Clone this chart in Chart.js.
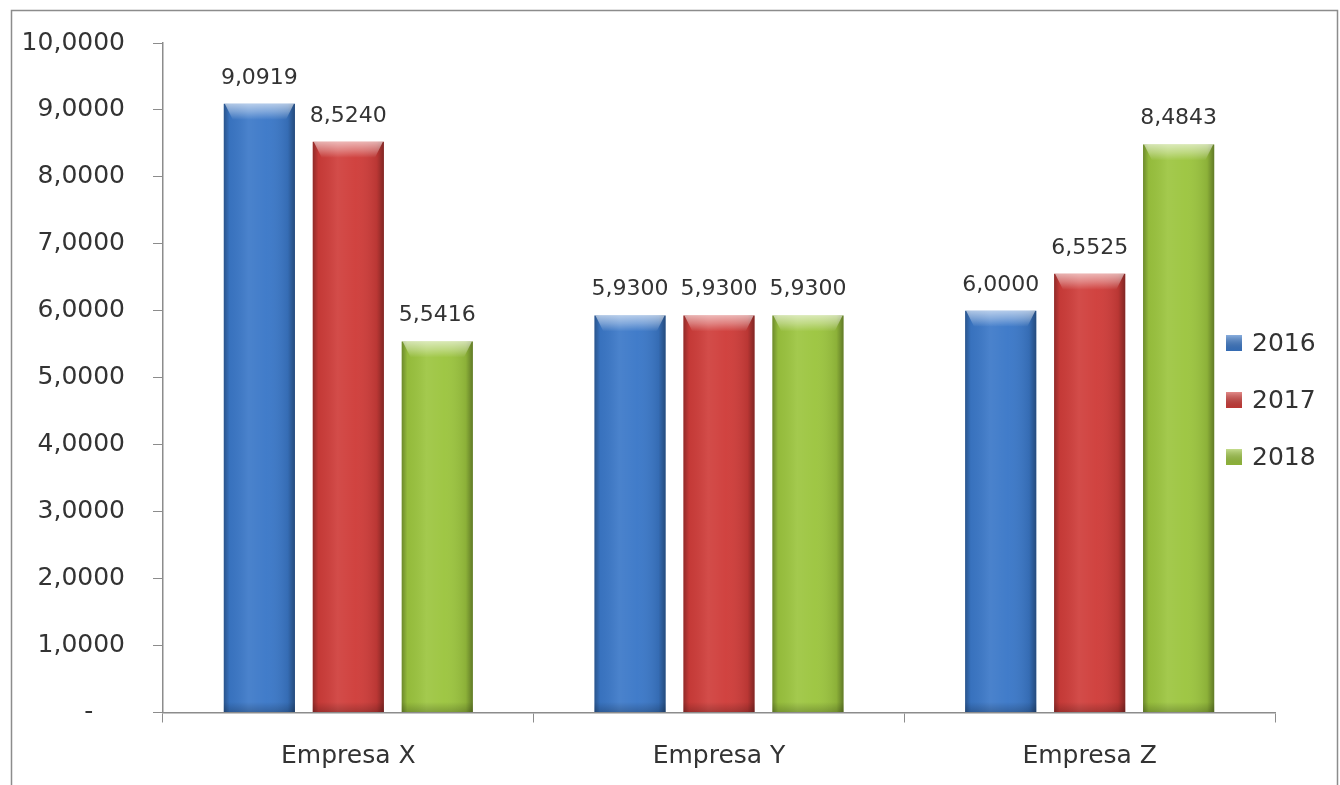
<!DOCTYPE html>
<html>
<head>
<meta charset="utf-8">
<script src="https://cdn.jsdelivr.net/npm/chart.js@4/dist/chart.umd.min.js"></script>
<style>
html,body{margin:0;padding:0;background:#fff;}
#wrap{width:1340px;height:785px;}
</style>
</head>
<body>
<div id="wrap"><canvas id="c" width="1340" height="785"></canvas></div>
<script>
const categories = ["Empresa X", "Empresa Y", "Empresa Z"];
const seriesLabels = ["2016", "2017", "2018"];
const values2016 = [9.0919, 5.9300, 6.0000];
const values2017 = [8.5240, 5.9300, 6.5525];
const values2018 = [5.5416, 5.9300, 8.4843];
const yTickValues = [0, 1, 2, 3, 4, 5, 6, 7, 8, 9, 10];

const colors = ["#3b78c8", "#cf3d3a", "#9cc53f"];
const FONT = "'DejaVu Sans', Verdana, sans-serif";

function fmt(v) {
  if (v === 0) return "-    ";
  return v.toFixed(4).replace(".", ",");
}

const framePlugin = {
  id: "frame",
  beforeDraw(chart) {
    const c = chart.ctx;
    c.save();
    c.fillStyle = "#fff";
    c.fillRect(0, 0, chart.width, chart.height);
    c.strokeStyle = "#8c8c8c";
    c.lineWidth = 1.5;
    c.beginPath();
    c.moveTo(11.5, chart.height + 2);
    c.lineTo(11.5, 10.5);
    c.lineTo(1337.5, 10.5);
    c.lineTo(1337.5, chart.height + 2);
    c.stroke();
    c.restore();
  }
};

const bevelPlugin = {
  id: "bevel",
  afterDatasetsDraw(chart) {
    const c = chart.ctx;
    c.save();
    chart.data.datasets.forEach((ds, di) => {
      const meta = chart.getDatasetMeta(di);
      meta.data.forEach((bar) => {
        const w = bar.width;
        const left = bar.x - w / 2;
        const top = bar.y;
        const h = bar.base - bar.y;
        const g = c.createLinearGradient(left, 0, left + w, 0);
        g.addColorStop(0, "rgba(0,0,0,0.30)");
        g.addColorStop(0.08, "rgba(0,0,0,0.05)");
        g.addColorStop(0.35, "rgba(255,255,255,0.08)");
        g.addColorStop(0.6, "rgba(255,255,255,0.03)");
        g.addColorStop(0.9, "rgba(0,0,0,0.10)");
        g.addColorStop(1, "rgba(0,0,0,0.38)");
        c.fillStyle = g;
        c.fillRect(left, top, w, h);
        const tg = c.createLinearGradient(0, top, 0, top + 16);
        tg.addColorStop(0, "rgba(255,255,255,0.6)");
        tg.addColorStop(0.5, "rgba(255,255,255,0.32)");
        tg.addColorStop(1, "rgba(255,255,255,0)");
        c.fillStyle = tg;
        c.beginPath();
        c.moveTo(left + 1, top);
        c.lineTo(left + w - 1, top);
        c.lineTo(left + w - 9, top + 16);
        c.lineTo(left + 9, top + 16);
        c.closePath();
        c.fill();
        const bg = c.createLinearGradient(0, bar.base - 10, 0, bar.base);
        bg.addColorStop(0, "rgba(0,0,0,0)");
        bg.addColorStop(1, "rgba(0,0,0,0.2)");
        c.fillStyle = bg;
        c.fillRect(left, bar.base - 10, w, 10);
      });
    });
    c.restore();
  }
};

const labelPlugin = {
  id: "valueLabels",
  afterDatasetsDraw(chart) {
    const c = chart.ctx;
    c.save();
    c.font = "22px " + FONT;
    c.fillStyle = "#333";
    c.textAlign = "center";
    c.textBaseline = "alphabetic";
    chart.data.datasets.forEach((ds, di) => {
      const meta = chart.getDatasetMeta(di);
      meta.data.forEach((bar, i) => {
        c.fillText(fmt(ds.data[i]), bar.x, bar.y - 20);
      });
    });
    c.restore();
  }
};

const legendPlugin = {
  id: "sideLegend",
  afterDraw(chart) {
    const c = chart.ctx;
    c.save();
    c.font = "25px " + FONT;
    c.textAlign = "left";
    c.textBaseline = "middle";
    const ys = [343, 400, 457];
    chart.data.datasets.forEach((ds, di) => {
      const y = ys[di];
      const g = c.createLinearGradient(1226, y - 8, 1226, y + 8);
      g.addColorStop(0, "rgba(255,255,255,0.4)");
      g.addColorStop(1, "rgba(0,0,0,0.1)");
      c.fillStyle = ds.backgroundColor;
      c.fillRect(1226, y - 8, 16, 16);
      c.fillStyle = g;
      c.fillRect(1226, y - 8, 16, 16);
      c.fillStyle = "#333";
      c.fillText(ds.label, 1252, y + 1);
    });
    c.restore();
  }
};

new Chart(document.getElementById("c"), {
  type: "bar",
  data: {
    labels: categories,
    datasets: [
      { label: seriesLabels[0], data: values2016, backgroundColor: colors[0] },
      { label: seriesLabels[1], data: values2017, backgroundColor: colors[1] },
      { label: seriesLabels[2], data: values2018, backgroundColor: colors[2] }
    ]
  },
  options: {
    responsive: false,
    animation: false,
    devicePixelRatio: 1,
    layout: { padding: { left: 0, right: 65, top: 37, bottom: 0 } },
    datasets: { bar: { barPercentage: 0.8, categoryPercentage: 0.72 } },
    plugins: {
      legend: { display: false },
      tooltip: { enabled: false },
      title: { display: false }
    },
    scales: {
      x: {
        offset: true,
        grid: { display: true, drawOnChartArea: false, drawTicks: true, tickLength: 10, color: "#8c8c8c", offset: true },
        border: { display: true, color: "#8c8c8c", width: 1.5 },
        ticks: { color: "#333", font: { family: FONT, size: 25 }, padding: 19 },
        afterFit(s) { s.height = 72.5; }
      },
      y: {
        min: 0,
        max: 10,
        afterBuildTicks(s) { s.ticks = yTickValues.map(v => ({ value: v })); },
        grid: { display: true, drawOnChartArea: false, drawTicks: true, tickLength: 10, color: "#8c8c8c" },
        border: { display: true, color: "#8c8c8c", width: 1.5 },
        ticks: { color: "#333", font: { family: FONT, size: 25 }, padding: 28, callback: (v) => fmt(v) },
        afterFit(s) { s.width = 163; }
      }
    }
  },
  plugins: [framePlugin, bevelPlugin, labelPlugin, legendPlugin]
});
</script>
</body>
</html>
